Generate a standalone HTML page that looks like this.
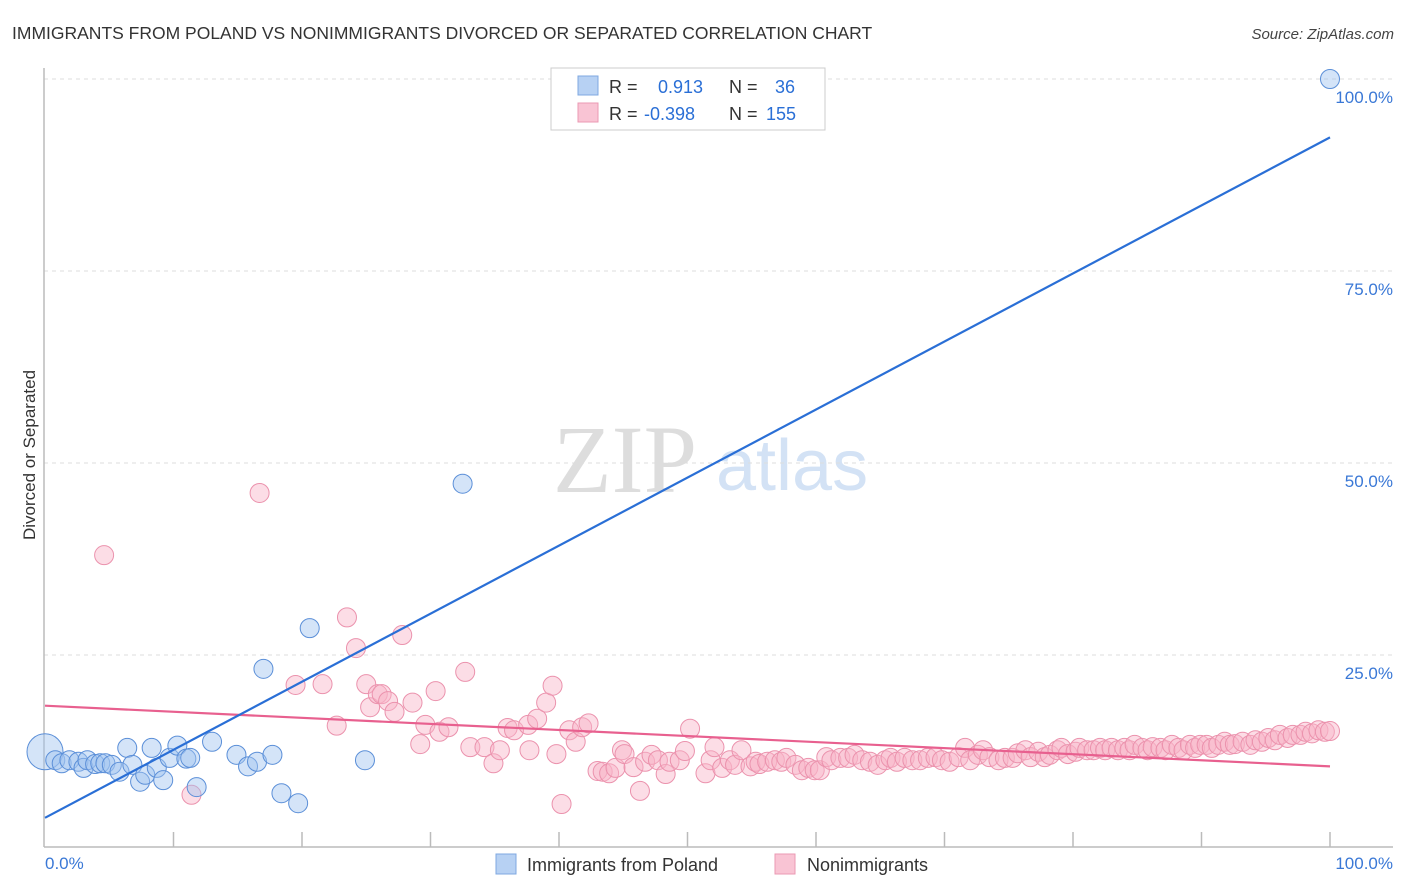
<!DOCTYPE html>
<html><head><meta charset="utf-8"><style>
body{margin:0;background:#fff;font-family:"Liberation Sans",sans-serif;}
svg{display:block}
</style></head><body>
<svg id="chart" width="1406" height="892" viewBox="0 0 1406 892">
<text x="12" y="39" font-size="17.5" fill="#333">IMMIGRANTS FROM POLAND VS NONIMMIGRANTS DIVORCED OR SEPARATED CORRELATION CHART</text>
<text x="1394" y="39" font-size="15" fill="#444" font-style="italic" text-anchor="end">Source: ZipAtlas.com</text>
<g>
<text x="553" y="492" font-size="96" font-family="Liberation Serif,serif" fill="#ddd">ZIP</text>
<text x="716" y="490" font-size="72" fill="#d3e2f5">atlas</text>
</g>
<g id="grid"></g>
<g id="axes"></g>
<g id="pinkPts"></g>
<g id="bluePts"></g>
<g id="lines"></g>
<text x="35" y="455" font-size="17" fill="#333" text-anchor="middle" transform="rotate(-90 35 455)">Divorced or Separated</text>
<text x="45" y="869" font-size="17" fill="#3a78d6">0.0%</text>
<text x="1393" y="869" font-size="17" fill="#3a78d6" text-anchor="end">100.0%</text>
<g>
<rect x="551" y="68" width="274" height="62" fill="#fff" stroke="#ccc"/>
<rect x="578" y="76" width="20" height="19" fill="#b7d1f3" stroke="#7fa8e0"/>
<rect x="578" y="103" width="20" height="19" fill="#f9c4d4" stroke="#eb9ab3"/>
<text x="609" y="93" font-size="18" fill="#333">R = <tspan x="658" fill="#2a6fd6">0.913</tspan><tspan x="729" fill="#333">N =</tspan><tspan x="775" fill="#2a6fd6">36</tspan></text>
<text x="609" y="120" font-size="18" fill="#333">R = <tspan x="644" fill="#2a6fd6">-0.398</tspan><tspan x="729" fill="#333">N =</tspan><tspan x="766" fill="#2a6fd6">155</tspan></text>
</g>
<g>
<rect x="496" y="854" width="20" height="20" fill="#b7d1f3" stroke="#7fa8e0"/>
<text x="527" y="871" font-size="18" fill="#333">Immigrants from Poland</text>
<rect x="775" y="854" width="20" height="20" fill="#f9c4d4" stroke="#eb9ab3"/>
<text x="807" y="871" font-size="18" fill="#333">Nonimmigrants</text>
</g>
</svg>
<script>
const yTicks=[25,50,75,100];
const yTickLabels=["25.0%","50.0%","75.0%","100.0%"];
const xTicks=[10,20,30,40,50,60,70,80,90,100];
const blueX=[0,0.8,1.3,1.9,2.6,3.0,3.3,3.9,4.3,4.7,5.2,5.8,6.4,6.8,7.4,7.8,8.3,8.7,9.2,9.7,10.3,11.0,11.3,11.8,13.0,14.9,15.8,16.5,17.7,18.4,19.7,17.0,20.6,24.9,32.5,100];
const blueY=[12.4,11.3,10.9,11.3,11.1,10.3,11.3,10.8,10.9,10.9,10.7,9.8,12.9,10.7,8.5,9.4,12.9,10.3,8.7,11.6,13.2,11.5,11.6,7.8,13.7,12.0,10.5,11.1,12.0,7.0,5.7,23.2,28.5,11.3,47.3,100];
const pinkX=[4.6,11.4,16.7,19.5,21.6,22.7,23.5,24.2,25.0,25.3,25.9,26.2,26.7,27.2,27.8,28.6,29.2,29.6,30.4,30.7,31.4,32.7,33.1,34.2,34.9,35.4,36.0,36.5,37.6,37.7,38.3,39.0,39.5,39.8,40.2,40.8,41.3,41.8,42.3,43.0,43.4,43.9,44.4,44.9,45.1,45.8,46.3,46.7,47.2,47.7,48.3,48.6,49.4,49.8,50.2,51.4,51.8,52.1,52.7,53.3,53.7,54.2,54.9,55.3,55.6,56.2,56.8,57.3,57.7,58.4,58.9,59.4,59.9,60.3,60.8,61.2,61.9,62.5,63.0,63.6,64.2,64.8,65.4,65.8,66.3,66.9,67.5,68.1,68.7,69.3,69.8,70.4,71.1,71.6,72.0,72.6,73.0,73.5,74.2,74.7,75.3,75.7,76.3,76.7,77.3,77.8,78.2,78.8,79.1,79.6,80.2,80.5,81.1,81.6,82.1,82.5,83.0,83.5,84.0,84.4,84.8,85.4,85.8,86.2,86.8,87.2,87.7,88.2,88.6,89.1,89.5,89.9,90.4,90.8,91.3,91.8,92.2,92.6,93.2,93.8,94.2,94.7,95.2,95.7,96.1,96.7,97.1,97.7,98.1,98.6,99.1,99.6,100];
const pinkY=[38.0,6.8,46.1,21.1,21.2,15.8,29.9,25.9,21.2,18.2,19.9,19.9,19.0,17.6,27.6,18.8,13.4,15.9,20.3,15.0,15.6,22.8,13.0,13.0,10.9,12.6,15.5,15.2,15.9,12.6,16.7,18.8,21.0,12.1,5.6,15.2,13.7,15.6,16.1,9.9,9.8,9.6,10.3,12.6,12.1,10.4,7.3,11.1,12.0,11.3,9.5,11.1,11.3,12.5,15.4,9.6,11.3,13.0,10.3,11.3,10.7,12.6,10.5,11.1,10.8,11.1,11.3,11.1,11.6,10.7,10.0,10.3,10.0,10.0,11.7,11.3,11.6,11.6,12.0,11.3,11.1,10.7,11.3,11.6,11.1,11.6,11.3,11.3,11.6,11.7,11.3,11.1,11.7,12.9,11.3,12.0,12.6,11.7,11.3,11.6,11.6,12.2,12.6,11.7,12.4,11.7,12.0,12.6,12.9,12.1,12.4,12.9,12.6,12.6,12.9,12.6,12.9,12.6,12.9,12.6,13.3,12.9,12.6,13.0,12.9,12.6,13.3,12.9,12.6,13.3,12.9,13.3,13.3,12.9,13.3,13.7,13.3,13.4,13.7,13.3,13.9,13.7,14.2,13.9,14.6,14.2,14.6,14.6,15.0,14.8,15.2,15.0,15.1];
const blueLine=[3.8,92.4];
const pinkLine=[18.4,10.5];

const X0=45,X1=1330,Y0=847,Y1=79;
const sx=v=>X0+(X1-X0)*v/100;
const sy=v=>Y0-(Y0-Y1)*v/100;
const NS="http://www.w3.org/2000/svg";
function mk(tag,attrs,parent){const e=document.createElementNS(NS,tag);for(const k in attrs)e.setAttribute(k,attrs[k]);parent.appendChild(e);return e;}
const grid=document.getElementById('grid'),axes=document.getElementById('axes');
yTicks.forEach((t,i)=>{
  const l=mk('line',{x1:44,x2:1393,y1:sy(t),y2:sy(t),stroke:'#ddd','stroke-dasharray':'4 4'},grid);
  
  
  const tx=mk('text',{x:1393,y:sy(t)+24,'font-size':17,fill:'#3a78d6','text-anchor':'end'},grid);
  tx.textContent=yTickLabels[i];
  
  
});
const ya=mk('line',{x1:44,x2:44,y1:68,y2:847,stroke:'#bbb','stroke-width':1.5},axes);


const xa=mk('line',{x1:44,x2:1393,y1:847,y2:847,stroke:'#bbb','stroke-width':1.5},axes);


xTicks.forEach(t=>{
  const l=mk('line',{x1:sx(t),x2:sx(t),y1:832,y2:847,stroke:'#bbb','stroke-width':1.5},axes);
  
  
});
const pg=document.getElementById('pinkPts');
pinkX.forEach((x,i)=>{
  const c=mk('circle',{cx:sx(x),cy:sy(pinkY[i]),r:9.5,fill:'rgba(248,180,200,0.45)',stroke:'#eb92ad','stroke-width':1},pg);
  
  
});
const bg=document.getElementById('bluePts');
blueX.forEach((x,i)=>{
  const c=mk('circle',{cx:sx(x),cy:sy(blueY[i]),r:i===0?18:9.5,fill:'rgba(160,195,240,0.45)',stroke:'#5b8fd8','stroke-width':1},bg);
  
  
});
const lg=document.getElementById('lines');
const pl=mk('line',{x1:sx(0),y1:sy(pinkLine[0]),x2:sx(100),y2:sy(pinkLine[1]),stroke:'#e8608f','stroke-width':2.2},lg);


const bl=mk('line',{x1:sx(0),y1:sy(blueLine[0]),x2:sx(100),y2:sy(blueLine[1]),stroke:'#2a6fd6','stroke-width':2.2},lg);


</script>
</body></html>
